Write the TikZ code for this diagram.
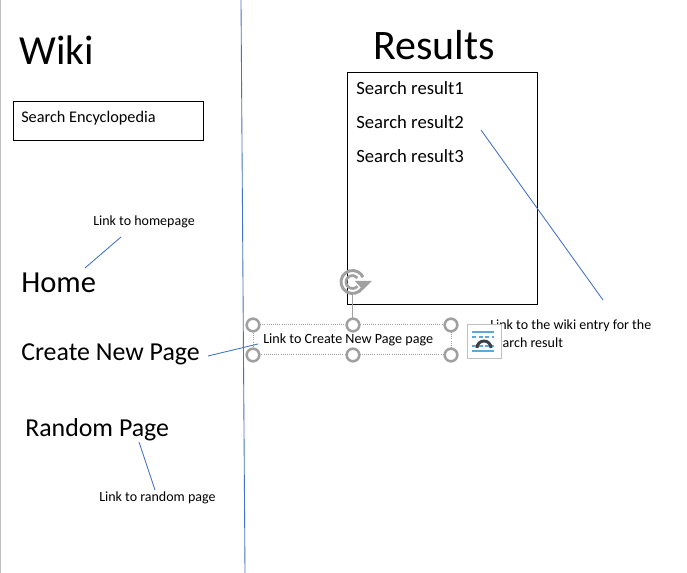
\documentclass[tikz,border=0pt]{standalone}
\usepackage{fontspec}
\setmainfont{Carlito}
\usepackage{xcolor}
\usetikzlibrary{calc,arrows.meta,positioning}
\definecolor{linkc}{HTML}{4472C4}
\definecolor{handc}{HTML}{A0A0A0}
\definecolor{edgec}{HTML}{BFBFBF}
\definecolor{wrapc}{HTML}{5BA8DC}
\definecolor{archc}{HTML}{404040}
\tikzset{
  lbl/.style={anchor=base west,inner sep=0pt,font=\fontsize{#1}{#1}\selectfont},
  frame/.style={draw=black,line width=0.75pt,inner sep=0pt,anchor=north west},
  ln/.style={linkc,line width=0.65pt},
  hnd/.style={circle,draw=handc,fill=white,line width=1.9pt,minimum size=9.5pt,inner sep=0pt},
  wrapl/.style={wrapc,line width=1pt}
}
\begin{document}
\begin{tikzpicture}[x=0.75pt,y=-0.75pt]
\useasboundingbox (0,0) rectangle (687,573);
\fill[white] (0,0) rectangle (687,573);
% page edges
\draw[edgec,line width=0.75pt] (0.5,0) -- (0.5,573);
\coordinate (splitt) at (241,0);
\coordinate (splitb) at (245,573);
\draw[ln] (splitt) -- (splitb);
% left column
\node[lbl=31] (wiki) at (19,65) {Wiki};
\node[frame,minimum width=142.5pt,minimum height=29pt] (searchbox) at (13,101.5) {};
\node[lbl=12.2] (searchtxt) at (21,123) {Search Encyclopedia};
\node[lbl=10.5] (homelink) at (93,226) {Link to homepage};
\node[lbl=22.9] (home) at (21,293) {Home};
\node[lbl=19.4] (create) at (21,361) {Create New Page};
\node[lbl=19.4] (random) at (25,437) {Random Page};
\node[lbl=10.5] (randlink) at (99,502) {Link to random page};
% results column
\node[lbl=31.5] (results) at (373,60) {Results};
\node[frame,minimum width=142.5pt,minimum height=174pt] (resbox) at (347,72.5) {};
\node[lbl=14] (res1) at (356,95) {Search result1};
\node[lbl=14] (res2) at (356,129) {Search result2};
\node[lbl=14] (res3) at (356,163) {Search result3};
\node[lbl=10.5] (wikilink) at (490,330) {Link to the wiki entry for the};
\node[lbl=10.5] (wikilink2) at (490,348) {search result};
% selected text box
\coordinate (rottop) at (352.5,295);
\draw[handc,line width=0.8pt] (rottop) -- (352.5,325);
\draw[handc,line width=0.6pt,densely dotted] (253,324.5) rectangle (451,354.5);
\node[hnd] (h1) at (253,325) {};
\node[hnd] (h2) at (353,325) {};
\node[hnd] (h3) at (451,325) {};
\node[hnd] (h4) at (253,355) {};
\node[hnd] (h5) at (353,355) {};
\node[hnd] (h6) at (451,355) {};
\node[lbl=10.6] (createlink) at (263,344) {Link to Create New Page page};
% rotate handle
\coordinate (rotc) at (352.5,282);
\draw[handc,line width=2.2pt] ($(rotc)+(30:11.5)$) arc[start angle=30,end angle=335,radius=11.5];
\draw[handc,line width=2pt] ($(rotc)+(40:6.5)$) arc[start angle=40,end angle=320,radius=6.5];
\fill[handc] (355,281) -- (372,281) -- (363,290) -- cycle;
% connectors
\coordinate (c1a) at (85,268);
\coordinate (c1b) at (121,237);
\draw[ln] (c1a) -- (c1b);
\coordinate (c2a) at (208,356);
\coordinate (c2b) at (258,344);
\draw[ln] (c2a) -- (c2b);
\coordinate (c3a) at (139,442);
\coordinate (c3b) at (155,490);
\draw[ln] (c3a) -- (c3b);
\coordinate (c4a) at (481,130);
\coordinate (c4b) at (603,300);
\draw[ln] (c4a) -- (c4b);
% layout button
\node[draw=edgec,fill=white,line width=0.75pt,inner sep=0pt,minimum width=25.5pt,minimum height=25.5pt] (wrapbtn) at (484,342) {};
\draw[wrapl] (472,332) -- (494,332);
\draw[wrapl,densely dashed] (472,337) -- (494,337);
\draw[wrapl,densely dashed] (472,346) -- (494,346);
\draw[wrapl] (472,351) -- (494,351);
\draw[archc,line width=2.2pt] (477,348) arc[start angle=180,end angle=360,radius=7];
\end{tikzpicture}
\end{document}
